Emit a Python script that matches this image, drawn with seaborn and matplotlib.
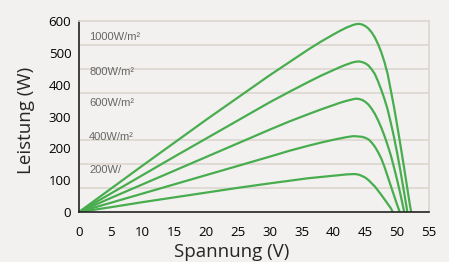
import pandas as pd
import numpy as np
import seaborn as sns
import matplotlib.pyplot as plt
from matplotlib.ticker import MultipleLocator

# values (voltage V, power W)
v_1000 = [0, 5, 10, 15, 20, 25, 30, 33, 36, 38, 40, 41, 42, 43, 43.5, 44, 44.5, 45, 45.5, 46, 46.5,
          47, 47.5, 48, 48.5, 49, 49.5, 50, 50.5, 51, 51.5, 52, 52.2]
p_1000 = [0, 73, 146, 218, 290, 360, 430, 470, 510, 535, 558, 569, 579, 587, 590, 591, 589, 584, 576, 564, 548,
          527, 502, 471, 434, 382, 330, 272, 212, 150, 86, 22, 0]

v_800 = [0, 5, 10, 15, 20, 25, 30, 33, 36, 38, 40, 41, 42, 43, 43.5, 44, 44.5, 45, 45.5, 46, 46.5,
         47, 47.5, 48, 48.5, 49, 49.5, 50, 50.5, 51, 51.6]
p_800 = [0, 58, 116, 174, 231, 288, 345, 377, 408, 428, 446, 455, 463, 470, 472, 473, 471, 467, 460, 448, 433,
         410, 384, 355, 322, 280, 235, 185, 130, 72, 0]

v_600 = [0, 5, 10, 15, 20, 25, 30, 33, 36, 38, 40, 41, 42, 43, 43.5, 44, 44.5, 45, 45.5, 46, 46.5,
         47, 47.5, 48, 48.5, 49, 49.5, 50, 50.5, 51.1]
p_600 = [0, 44, 87, 130, 173, 216, 259, 284, 307, 322, 336, 343, 349, 354, 356, 355, 352, 346, 337, 324, 308,
         288, 265, 239, 210, 178, 140, 100, 57, 0]

v_400 = [0, 5, 10, 15, 20, 25, 30, 33, 36, 38, 40, 41, 42, 43, 43.5, 44, 44.5, 45, 45.5, 46, 46.5,
         47, 47.5, 48, 48.5, 49, 49.5, 50, 50.4]
p_400 = [0, 29, 58, 87, 116, 145, 174, 192, 208, 218, 227, 231, 235, 238, 238, 237, 236, 233, 228, 218, 205,
         188, 168, 142, 112, 82, 52, 22, 0]

v_200 = [0, 5, 10, 15, 20, 25, 30, 33, 36, 38, 40, 41, 42, 43, 43.5, 44, 44.5, 45, 45.5, 46, 46.5,
         47, 47.5, 48, 48.5, 49, 49.3]
p_200 = [0, 15, 31, 46, 61, 76, 90, 98, 106, 110, 114, 116, 118, 119, 119, 117, 113, 108, 100, 90, 80,
         67, 54, 40, 26, 12, 0]

labels = ["1000W/m²", "800W/m²", "600W/m²", "400W/m²", "200W/"]
x_ticks = [0, 5, 10, 15, 20, 25, 30, 35, 40, 45, 50, 55]
y_ticks = [0, 100, 200, 300, 400, 500, 600]

curves = [(v_1000, p_1000), (v_800, p_800), (v_600, p_600), (v_400, p_400), (v_200, p_200)]
frames = []
for name, (v, p) in zip(labels, curves):
    frames.append(pd.DataFrame({"Spannung": v, "Leistung": p, "Kurve": name}))
df = pd.concat(frames, ignore_index=True)

bg = "#f2f1ef"
grid = "#ddd6d0"
green = "#48ad4e"

sns.set_style("white")
plt.rcParams["font.family"] = ["Open Sans", "DejaVu Sans"]

fig = plt.figure(figsize=(4.49, 2.62), dpi=100, facecolor=bg)
ax = fig.add_axes([79 / 449, 50 / 262, 350 / 449, 191 / 262])
ax.set_facecolor(bg)

sns.lineplot(data=df, x="Spannung", y="Leistung", hue="Kurve",
             palette=[green] * 5, sort=False, estimator=None,
             linewidth=1.6, legend=False, ax=ax)

ax.set_xlim(0, 55)
ax.set_ylim(0, 600)
ax.set_xticks(x_ticks)
ax.set_yticks(y_ticks)
ax.yaxis.set_minor_locator(MultipleLocator(75))
ax.grid(which="minor", axis="y", color=grid, linewidth=1.2)
ax.set_axisbelow(True)
ax.tick_params(which="minor", length=0)
ax.tick_params(which="major", direction="out", length=4, width=1,
               labelsize=9.5, colors="black")
ax.tick_params(axis="x", pad=6)
ax.tick_params(axis="y", pad=1.5)

for side in ["left", "bottom"]:
    ax.spines[side].set_color("#222222")
    ax.spines[side].set_linewidth(1.2)
for side in ["top", "right"]:
    ax.spines[side].set_color(grid)
    ax.spines[side].set_linewidth(1.2)

ax.set_xlabel("Spannung (V)", fontsize=13.5)
ax.set_ylabel("Leistung (W)", fontsize=13.5)
ax.xaxis.set_label_coords(0.437, -0.16)
ax.yaxis.set_label_coords(-0.126, 0.48)

# irradiance labels at the left side of the chart
label_y = [550, 441, 342, 236, 132]
for txt, y in zip(labels, label_y):
    ax.text(1.6, y, txt, fontsize=8, color="#666666", va="center",
            family=["Liberation Sans", "DejaVu Sans"])

# title is cut off at the top edge in the reference, only descenders show
fig.text(0.55, 1.02, "Leistung in Abhängigkeit von Spannung (Beispiel)",
         ha="center", va="baseline", fontsize=14)

fig.savefig("out.png", dpi=100, facecolor=bg)
